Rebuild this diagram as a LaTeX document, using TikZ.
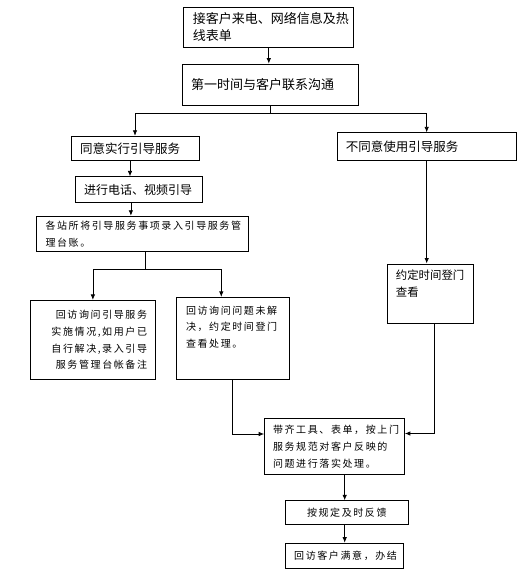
\documentclass[tikz,border=0pt]{standalone}
\usepackage{fontspec}
\setmainfont{Noto Sans CJK SC}
\newfontfamily\spacedcjk[LetterSpace=16]{Noto Sans CJK SC}
\usetikzlibrary{arrows.meta}
\tikzset{%
  >={Latex[width=4.5pt,length=5.5pt]},
  % Specifications for style of nodes:
            base/.style = {rectangle, draw=black, inner xsep=9pt, inner ysep=2pt,
                           align=left},
          bigbox/.style = {base, font=\fontsize{13}{16.8}\selectfont},
          midbox/.style = {base, font=\fontsize{12.5}{16.8}\selectfont},
        smallbox/.style = {base, font=\spacedcjk\fontsize{10}{16.8}\selectfont},
}

\begin{document}
\begin{tikzpicture}[x=1pt, y=-1pt, line width=0.8pt]
  \useasboundingbox (0,0) rectangle (531,584);
  % Specification of nodes (position, etc.)

  \node (call)			[bigbox, text width=152pt, minimum height=40pt] at (268.8,26.9) {接客户来电、网络信息及热\\线表单};
  \node (first)			[bigbox, text width=158pt, minimum height=41pt] at (270,84.5) {第一时间与客户联系沟通};
  \node (agree)			[midbox, text width=110pt, minimum height=24.6pt] at (135,148.5) {同意实行引导服务};
  \node (refuse)		[midbox, text width=161.5pt, minimum height=28pt] at (426.7,146.8) {不同意使用引导服务};
  \node (guide)			[midbox, font=\fontsize{12}{16.8}\selectfont, text width=109.6pt, minimum height=26pt] at (138.9,189.8) {进行电话、视频引导};
  \node (record)		[smallbox, text width=193.6pt, minimum height=35.4pt] at (142.3,233.9) {各站所将引导服务事项录入引导服务管\\理台账。};
  \node (revisit)		[smallbox, align=right, inner xsep=8pt, text width=108.3pt, minimum height=79.3pt] at (92.9,340) {回访询问引导服务\\实施情况,如用户已\\自行解决,录入引导\\服务管理台帐备注};
  \node (unsolved)		[smallbox, inner xsep=9.2pt, inner ysep=0pt] at (233.3,338.5) {\parbox[c][82.3pt][t]{94.6pt}{\vspace*{8.3pt}回访询问问题未解\\决，约定时间登门\\查看处理。}};
  \node (appoint)		[base, inner xsep=8.5pt, inner ysep=0pt, font=\fontsize{11.4}{17}\selectfont] at (430.2,293.7) {\parbox[c][59.6pt][t]{68.6pt}{\vspace*{6.2pt}约定时间登门\\查看}};
  \node (meet)			[smallbox, inner xsep=8.5pt, text width=122.9pt, minimum height=55.8pt] at (334.5,446.7) {带齐工具、表单，按上门\\服务规范对客户反映的\\问题进行落实处理。};
  \node (feedback)		[smallbox, align=center, text width=105.5pt, minimum height=23.8pt] at (346.8,512.6) {按规定及时反馈};
  \node (done)			[smallbox, text width=100.4pt, minimum height=25pt] at (344.4,555.6) {回访客户满意，办结};

  \coordinate (split)	at ([yshift=-8.2pt]first.south);
  \coordinate (fork)	at ([xshift=3.4pt, yshift=-17.5pt]record.south);

  \draw[->]				(call.south) -- (call.south |- first.north);
  \draw					(first.south) -- (split);
  \draw[->]				(split) -| (agree.north);
  \draw[->]				(split) -| (refuse.north);
  \draw[->]				([xshift=-5pt]agree.south) -- ([xshift=-5pt]agree.south |- guide.north);
  \draw[->]				([xshift=-8pt]guide.south) -- ([xshift=-8pt]guide.south |- record.north);
  \draw					([xshift=3.4pt]record.south) -- (fork);
  \draw[->]				(fork) -| (revisit.north);
  \draw[->]				(fork) -| ([xshift=-12pt]unsolved.north);
  \draw[->]				([xshift=-1.2pt]unsolved.south) |- ([yshift=12.7pt]meet.west);
  \draw[->]				(refuse.south) -- (refuse.south |- appoint.north);
  \draw[->]				([xshift=4.3pt]appoint.south) |- ([yshift=13.2pt]meet.east);
  \draw[->]				([xshift=10.2pt]meet.south) -- ([xshift=10.2pt]meet.south |- feedback.north);
  \draw[->]				([xshift=-2.1pt]feedback.south) -- ([xshift=-2.1pt]feedback.south |- done.north);

\end{tikzpicture}
\end{document}
